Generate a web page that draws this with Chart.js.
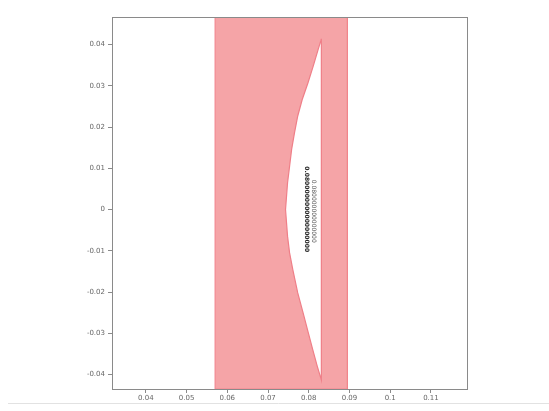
<!DOCTYPE html>
<html>
<head>
<meta charset="utf-8">
<script src="https://cdn.jsdelivr.net/npm/chart.js@4"></script>
<style>
  html, body { margin: 0; padding: 0; background: #fff; }
  #wrap { width: 549px; height: 411px; position: relative; }
</style>
</head>
<body>
<div id="wrap"><canvas id="c" width="549" height="411"></canvas></div>
<script>
// Axis extents and ticks
const xRange = [0.0317, 0.1191];
const yRange = [-0.0435, 0.0467];
const xTicks = [0.04, 0.05, 0.06, 0.07, 0.08, 0.09, 0.10, 0.11];
const xTickLabels = ['0.04', '0.05', '0.06', '0.07', '0.08', '0.09', '0.1', '0.11'];
const yTicks = [-0.04, -0.03, -0.02, -0.01, 0, 0.01, 0.02, 0.03, 0.04];
const yTickLabels = ['-0.04', '-0.03', '-0.02', '-0.01', '0', '0.01', '0.02', '0.03', '0.04'];

// Shaded band (x interval)
const bandX = [0.0570, 0.0895];

// Open region inside the band: curved left side (top to bottom), straight right side back up
const lensX = [0.0831, 0.0823, 0.0811, 0.0798, 0.0784, 0.0773, 0.0765, 0.0758, 0.0753, 0.0748, 0.0743,
               0.0748, 0.0753, 0.0761, 0.0773, 0.0786, 0.0799, 0.0810, 0.0821, 0.0831, 0.0831];
const lensY = [0.0414, 0.0388, 0.0348, 0.0307, 0.0267, 0.0227, 0.0186, 0.0146, 0.0105, 0.0065, 0.0000,
               -0.0065, -0.0105, -0.0146, -0.0202, -0.0250, -0.0299, -0.0340, -0.0380, -0.0413, 0.0414];

// Vertical annotation strings
const noteX = [0.0794, 0.0811];
const noteY = [0.0001, -0.0004];
const noteText = ['0.0800000000000000000', '0.080000000000000'];

const bandPoints = [
  { x: bandX[0], y: yRange[0] },
  { x: bandX[0], y: yRange[1] },
  { x: bandX[1], y: yRange[1] },
  { x: bandX[1], y: yRange[0] },
  { x: bandX[0], y: yRange[0] }
];
const lensPoints = lensX.map((x, i) => ({ x: x, y: lensY[i] }));

const frame = {
  id: 'frame',
  afterDraw(chart) {
    const { ctx, chartArea: a } = chart;
    ctx.save();
    ctx.strokeStyle = '#8a8a8a';
    ctx.lineWidth = 1;
    ctx.strokeRect(Math.round(a.left) + 0.5, Math.round(a.top) + 0.5,
                   Math.round(a.right - a.left) - 1, Math.round(a.bottom - a.top));
    // faint rule under the figure
    ctx.strokeStyle = '#e2e2e2';
    ctx.beginPath();
    ctx.moveTo(8, 403.5);
    ctx.lineTo(549, 403.5);
    ctx.stroke();
    ctx.restore();
  }
};

const notes = {
  id: 'notes',
  afterDatasetsDraw(chart) {
    const { ctx, scales } = chart;
    ctx.save();
    noteText.forEach((t, i) => {
      const px = scales.x.getPixelForValue(noteX[i]);
      const py = scales.y.getPixelForValue(noteY[i]);
      ctx.save();
      ctx.translate(px, py);
      ctx.rotate(Math.PI / 2);
      ctx.font = (i === 0 ? 'bold ' : '') + '6px "DejaVu Sans"';
      ctx.fillStyle = i === 0 ? '#2a2a2a' : '#555';
      ctx.textAlign = 'center';
      ctx.textBaseline = 'middle';
      ctx.fillText(t, 0, 0);
      ctx.restore();
    });
    ctx.restore();
  }
};

new Chart(document.getElementById('c'), {
  type: 'line',
  data: {
    datasets: [
      {
        data: bandPoints,
        order: 2,
        fill: 'shape',
        backgroundColor: '#f5a4a7',
        borderColor: '#f2848c',
        borderWidth: 1,
        pointRadius: 0,
        tension: 0
      },
      {
        data: lensPoints,
        order: 1,
        fill: 'shape',
        backgroundColor: '#ffffff',
        borderColor: '#ef7f88',
        borderWidth: 1.2,
        pointRadius: 0,
        tension: 0
      }
    ]
  },
  options: {
    responsive: false,
    animation: false,
    events: [],
    layout: { padding: { left: 0, top: 17, right: 81, bottom: 0 } },
    plugins: { legend: { display: false }, tooltip: { enabled: false } },
    scales: {
      x: {
        type: 'linear',
        min: xRange[0],
        max: xRange[1],
        afterBuildTicks: s => { s.ticks = xTicks.map(v => ({ value: v })); },
        afterFit: s => { s.height = 22; },
        ticks: {
          callback: (v, i) => xTickLabels[i],
          font: { family: 'DejaVu Sans', size: 7 },
          color: '#666',
          padding: 1,
          maxRotation: 0,
          autoSkip: false
        },
        grid: { display: true, drawOnChartArea: false, drawTicks: true, tickLength: 4, color: '#8a8a8a' },
        border: { display: false }
      },
      y: {
        type: 'linear',
        min: yRange[0],
        max: yRange[1],
        afterBuildTicks: s => { s.ticks = yTicks.map(v => ({ value: v })); },
        afterFit: s => { s.width = 112; },
        ticks: {
          callback: (v, i) => yTickLabels[i],
          font: { family: 'DejaVu Sans', size: 7 },
          color: '#666',
          padding: 3,
          autoSkip: false
        },
        grid: { display: true, drawOnChartArea: false, drawTicks: true, tickLength: 4, color: '#8a8a8a' },
        border: { display: false }
      }
    }
  },
  plugins: [frame, notes]
});
</script>
</body>
</html>
